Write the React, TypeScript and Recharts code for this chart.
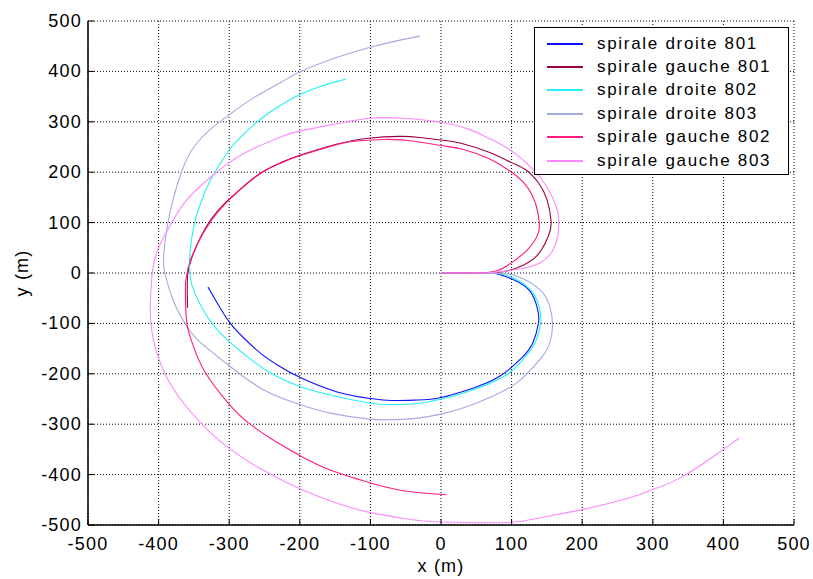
import { LineChart, Line, XAxis, YAxis, CartesianGrid } from 'recharts';

const ticks = [-500, -400, -300, -200, -100, 0, 100, 200, 300, 400, 500];

// points, [x, y] in metres
const droite801 = [
  [0, 0], [30, 0], [60, 0], [80, -2], [102, -13], [126, -36], [137, -73], [138, -100], [130, -139],
  [114, -169], [83, -205], [46, -228], [0, -247], [-34, -252], [-70, -253], [-100, -249],
  [-147, -236], [-200, -207], [-230, -184], [-255, -160], [-280, -128], [-300, -97], [-318, -57],
  [-330, -28],
];
const gauche801 = [
  [0, 0], [30, 0], [60, 0], [85, 2], [107, 10], [135, 33], [152, 73], [156, 102], [150, 146], [138, 179],
  [121, 204], [100, 219], [69, 239], [27, 258], [0, 264], [-30, 269], [-60, 271], [-100, 268],
  [-120, 264], [-147, 256], [-199, 234], [-227, 219], [-255, 199], [-283, 168], [-305, 140],
  [-325, 108], [-341, 70], [-353, 30], [-359, -6], [-359, -69],
];
const droite802 = [
  [0, 0], [30, 0], [60, 0], [85, -2], [107, -13], [130, -39], [140, -73], [141, -100], [133, -139],
  [116, -172], [97, -198], [69, -219], [32, -238], [0, -250], [-34, -259], [-70, -261],
  [-101, -258], [-157, -242], [-200, -225], [-237, -202], [-269, -172], [-300, -136],
  [-321, -106], [-337, -73], [-349, -39], [-355, -10], [-356, 27], [-354, 60], [-349, 100],
  [-340, 140], [-326, 186], [-312, 219], [-299, 246], [-279, 276], [-255, 306], [-227, 333],
  [-201, 353], [-171, 370], [-142, 382], [-135, 385],
];
const droite803 = [
  [0, 0], [30, 0], [60, 0], [85, -1], [107, -6], [140, -33], [154, -66], [158, -100], [154, -139],
  [140, -172], [118, -205], [100, -225], [69, -247], [31, -268], [0, -280], [-39, -289],
  [-70, -291], [-101, -290], [-157, -278], [-200, -261], [-251, -232], [-299, -185],
  [-345, -132], [-363, -99], [-378, -59], [-391, -1], [-393, 30], [-391, 60], [-385, 113],
  [-368, 199], [-349, 252], [-326, 286], [-299, 315], [-265, 348], [-227, 378], [-200, 399],
  [-147, 428], [-100, 448], [-58, 462], [-30, 470],
];
const gauche802 = [
  [0, 0], [30, 0], [55, 0], [75, 3], [93, 14], [123, 47], [138, 80], [139, 102], [135, 133], [121, 173],
  [98, 202], [69, 226], [32, 245], [0, 253], [-40, 262], [-80, 265], [-120, 262], [-147, 255],
  [-199, 233], [-227, 218], [-255, 198], [-283, 167], [-305, 138], [-325, 105], [-342, 66],
  [-355, 25], [-361, -10], [-362, -40], [-360, -99], [-352, -140], [-335, -195], [-302, -257],
  [-274, -296], [-236, -333], [-200, -362], [-157, -391], [-101, -416], [-53, -432], [8, -440],
];
const gauche803 = [
  [0, 0], [30, 0], [60, 0], [93, 4], [140, 20], [163, 60], [167, 102], [163, 133], [149, 173], [130, 206],
  [97, 245], [64, 270], [40, 285], [0, 299], [-53, 307], [-100, 307], [-152, 295], [-199, 282],
  [-227, 270], [-283, 234], [-330, 186], [-363, 140], [-387, 86], [-401, 47], [-408, 10],
  [-411, -39], [-411, -99], [-401, -165], [-378, -232], [-340, -298], [-300, -348], [-251, -392],
  [-200, -428], [-147, -457], [-101, -475], [-48, -488], [0, -494], [93, -495], [135, -487],
  [198, -470], [267, -446], [297, -431], [342, -404], [398, -352], [422, -328],
];

const series = [
  { name: 'spirale droite 801', color: '#1010ff', pts: droite801 },
  { name: 'spirale gauche 801', color: '#990044', pts: gauche801 },
  { name: 'spirale droite 802', color: '#22f2f2', pts: droite802 },
  { name: 'spirale droite 803', color: '#a4aae0', pts: droite803 },
  { name: 'spirale gauche 802', color: '#ff1a80', pts: gauche802 },
  { name: 'spirale gauche 803', color: '#ff88ff', pts: gauche803 },
];

const font = '"Liberation Sans", Arial, Helvetica, sans-serif';

const BottomTick = ({ x, y, payload }: any) => (
  <g>
    <line x1={x} x2={x} y1={y} y2={y - 6} stroke="#000" />
    <text x={x} y={y + 25} textAnchor="middle" fontSize={18} fontFamily={font} letterSpacing={1.2} fill="#000">
      {payload.value}
    </text>
  </g>
);
const TopTick = ({ x, y }: any) => <line x1={x} x2={x} y1={y} y2={y + 6} stroke="#000" />;
const LeftTick = ({ x, y, payload }: any) => (
  <g>
    <line x1={x} x2={x + 6} y1={y} y2={y} stroke="#000" />
    <text x={x - 6} y={y + 6} textAnchor="end" fontSize={18} fontFamily={font} letterSpacing={1.2} fill="#000">
      {payload.value}
    </text>
  </g>
);
const RightTick = ({ x, y }: any) => <line x1={x} x2={x - 6} y1={y} y2={y} stroke="#000" />;

export default function App() {
  return (
    <div style={{ position: 'absolute', left: 0, top: 0, width: 813, height: 579, background: '#fff', fontFamily: font }}>
      <LineChart width={813} height={579} margin={{ top: 21, right: 19, bottom: 0, left: 0 }}>
        <CartesianGrid stroke="#000" strokeDasharray="1 2" />
        <XAxis
          dataKey="x" type="number" domain={[-500, 500]} ticks={ticks} height={54}
          tickSize={0} tickMargin={0} tick={<BottomTick />} axisLine={{ stroke: '#000', strokeWidth: 1.5 }}
        />
        <XAxis
          xAxisId="top" orientation="top" type="number" domain={[-500, 500]} ticks={ticks} height={0}
          tickSize={0} tickMargin={0} tick={<TopTick />} axisLine={{ stroke: '#000', strokeWidth: 1.5 }}
        />
        <YAxis
          type="number" domain={[-500, 500]} ticks={ticks} width={88}
          tickSize={0} tickMargin={0} tick={<LeftTick />} axisLine={{ stroke: '#000', strokeWidth: 1.5 }}
        />
        <YAxis
          yAxisId="right" orientation="right" type="number" domain={[-500, 500]} ticks={ticks} width={0}
          tickSize={0} tickMargin={0} tick={<RightTick />} axisLine={{ stroke: '#000', strokeWidth: 1.5 }}
        />
        {series.map((s) => (
          <Line
            key={s.name}
            data={s.pts.map(([x, y]) => ({ x, y }))}
            dataKey="y"
            name={s.name}
            type="natural"
            stroke={s.color}
            strokeWidth={1.1}
            dot={false}
            activeDot={false}
            isAnimationActive={false}
          />
        ))}
      </LineChart>
      <div style={{ position: 'absolute', left: 441, top: 556, lineHeight: '20px', transform: 'translateX(-50%)', fontSize: 18, letterSpacing: 1.2, whiteSpace: 'nowrap' }}>
        x (m)
      </div>
      <div style={{ position: 'absolute', left: 22, top: 273, lineHeight: '20px', transform: 'translate(-50%, -50%) rotate(-90deg)', fontSize: 18, letterSpacing: 1.2, whiteSpace: 'nowrap' }}>
        y (m)
      </div>
      <div
        style={{
          position: 'absolute', left: 534, top: 27, width: 255, height: 148, boxSizing: 'border-box',
          border: '1.5px solid #000', background: '#fff', paddingTop: 4,
        }}
      >
        {series.map((s) => (
          <div key={s.name} style={{ height: 23.4, display: 'flex', alignItems: 'center' }}>
            <div style={{ marginLeft: 12, width: 36, height: 2, background: s.color, flexShrink: 0 }} />
            <span style={{ marginLeft: 14, fontSize: 17, letterSpacing: 1.7, whiteSpace: 'nowrap' }}>{s.name}</span>
          </div>
        ))}
      </div>
    </div>
  );
}
